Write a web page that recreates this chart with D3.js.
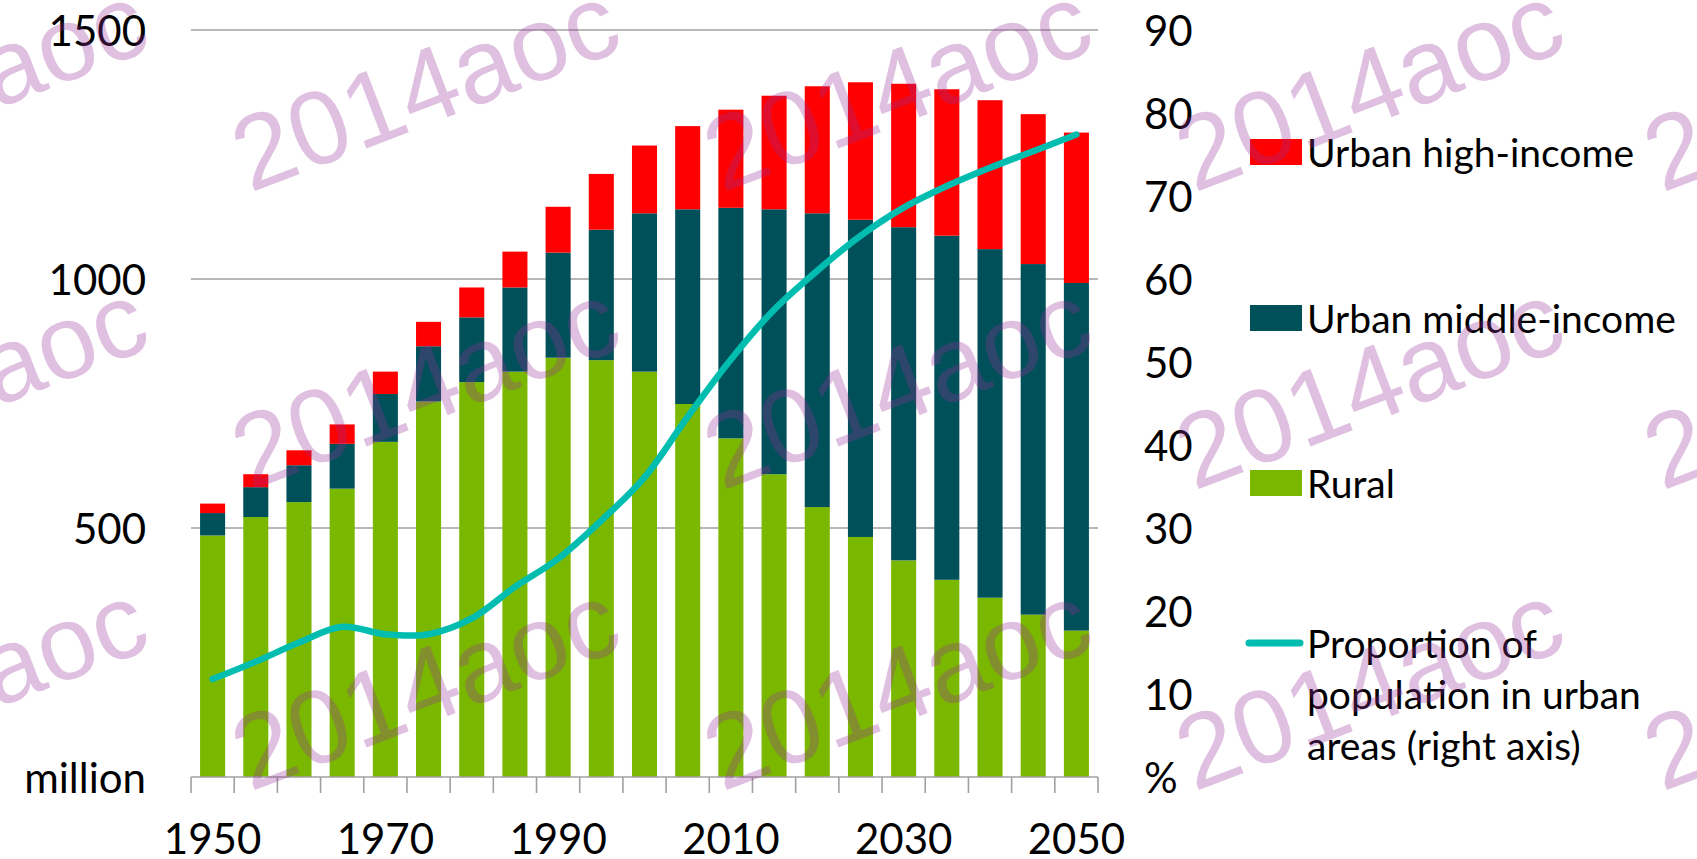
<!DOCTYPE html>
<html>
<head>
<meta charset="utf-8">
<script src="https://cdn.jsdelivr.net/npm/d3@7"></script>
<style>
  html, body { margin: 0; padding: 0; background: #fff; }
  svg { display: block; }
</style>
</head>
<body>
<div id="chart"></div>
<script>
// population by group, million
const years = [1950, 1955, 1960, 1965, 1970, 1975, 1980, 1985, 1990, 1995, 2000,
               2005, 2010, 2015, 2020, 2025, 2030, 2035, 2040, 2045, 2050];
const rural = [485, 522, 552, 579, 673, 754, 793, 814, 842, 837, 814,
               749, 680, 608, 542, 482, 435, 396, 360, 326, 294];
const urbanMiddle = [45, 60, 74, 90, 96, 111, 130, 169, 211, 262, 318,
                     391, 463, 532, 590, 637, 669, 691, 700, 704, 698];
const urbanHigh = [19, 26, 30, 39, 45, 49, 60, 72, 92, 112, 136,
                   167, 197, 228, 255, 276, 288, 294, 299, 301, 302];
// share of population in urban areas, %
const urbanShare = [11.8, 13.9, 16.2, 18.1, 17.2, 17.2, 19.1, 22.9, 26.3, 30.9, 36.1,
                    43.4, 50.3, 56.3, 61.0, 65.2, 68.6, 71.2, 73.4, 75.4, 77.4];

const leftTicks = [0, 500, 1000, 1500];
const rightTicks = [0, 10, 20, 30, 40, 50, 60, 70, 80, 90];
const yearLabels = [1950, 1970, 1990, 2010, 2030, 2050];

const seriesNames = ['Urban high-income', 'Urban middle-income', 'Rural'];
const lineName = ['Proportion of', 'population in urban', 'areas (right axis)'];

let width = 1697,
    height = 859;

let colors = { rural: '#7ab800', middle: '#00505a', high: '#ff0000', line: '#00bdb0' };
let font = 'Lato, "Open Sans", sans-serif';

let x = d3.scaleBand()
  .domain(years)
  .range([191, 1098])
  .paddingInner(0.42)
  .paddingOuter(0.21);

let y = d3.scaleLinear().domain([0, 1500]).range([777, 30]);
let y2 = d3.scaleLinear().domain([0, 90]).range([777, 30]);

let svg = d3.select('#chart').append('svg')
  .attr('width', width)
  .attr('height', height);

// gridlines
svg.append('g')
  .selectAll('line')
  .data(leftTicks.filter(d => d > 0))
  .enter().append('line')
    .attr('x1', 191).attr('x2', 1098)
    .attr('y1', d => y(d)).attr('y2', d => y(d))
    .style('stroke', '#a0a0a0')
    .style('stroke-width', 1.6);

// stacked bars
let rows = years.map((yr, i) => ({ year: yr, rural: rural[i], middle: urbanMiddle[i], high: urbanHigh[i] }));
let stack = d3.stack().keys(['rural', 'middle', 'high'])(rows);

svg.append('g')
  .selectAll('g')
  .data(stack)
  .enter().append('g')
    .style('fill', d => colors[d.key])
  .selectAll('rect')
  .data(d => d)
  .enter().append('rect')
    .attr('x', d => x(d.data.year))
    .attr('width', x.bandwidth())
    .attr('y', d => y(d[1]))
    .attr('height', d => y(d[0]) - y(d[1]));

// x axis line and ticks between categories
let axisG = svg.append('g');
axisG.append('line')
  .attr('x1', 191).attr('x2', 1098)
  .attr('y1', y(0)).attr('y2', y(0))
  .style('stroke', '#a0a0a0')
  .style('stroke-width', 1.6);

axisG.selectAll('.tick')
  .data(years.concat(['end']))
  .enter().append('line')
    .attr('class', 'tick')
    .attr('x1', (d, i) => 191 + i * x.step())
    .attr('x2', (d, i) => 191 + i * x.step())
    .attr('y1', y(0))
    .attr('y2', y(0) + 16)
    .style('stroke', '#a0a0a0')
    .style('stroke-width', 1.6);

axisG.selectAll('.xlabel')
  .data(yearLabels)
  .enter().append('text')
    .attr('class', 'xlabel')
    .attr('x', d => x(d) + x.bandwidth() / 2)
    .attr('y', 854)
    .attr('text-anchor', 'middle')
    .style('font-family', font)
    .style('font-size', '42px')
    .text(d => d);

// left axis labels
svg.append('g')
  .selectAll('text')
  .data(leftTicks)
  .enter().append('text')
    .attr('x', 146)
    .attr('y', d => y(d))
    .attr('text-anchor', 'end')
    .attr('dominant-baseline', 'central')
    .style('font-family', font)
    .style('font-size', '42px')
    .text(d => d === 0 ? 'million' : d);

// right axis labels
svg.append('g')
  .selectAll('text')
  .data(rightTicks)
  .enter().append('text')
    .attr('x', 1144)
    .attr('y', d => y2(d))
    .attr('dominant-baseline', 'central')
    .style('font-family', font)
    .style('font-size', '42px')
    .text(d => d === 0 ? '%' : d);

// urban share line
let line = d3.line()
  .x((d, i) => x(years[i]) + x.bandwidth() / 2)
  .y(d => y2(d))
  .curve(d3.curveCatmullRom);

svg.append('path')
  .datum(urbanShare)
  .attr('d', line)
  .style('fill', 'none')
  .style('stroke', colors.line)
  .style('stroke-width', 6.5)
  .style('stroke-linecap', 'round')
  .style('stroke-linejoin', 'round');

// legend
let legend = svg.append('g');
let legendKeys = ['high', 'middle', 'rural'];
let legendY = [152, 318, 483];

legendKeys.forEach((k, i) => {
  legend.append('rect')
    .attr('x', 1250).attr('y', legendY[i] - 13)
    .attr('width', 52).attr('height', 26)
    .style('fill', colors[k]);
  legend.append('text')
    .attr('x', 1307).attr('y', legendY[i])
    .attr('dominant-baseline', 'central')
    .style('font-family', font)
    .style('font-size', '39px')
    .text(seriesNames[i]);
});

legend.append('line')
  .attr('x1', 1249).attr('x2', 1300)
  .attr('y1', 643).attr('y2', 643)
  .style('stroke', colors.line)
  .style('stroke-width', 7)
  .style('stroke-linecap', 'round');

legend.selectAll('.ltext')
  .data(lineName)
  .enter().append('text')
    .attr('class', 'ltext')
    .attr('x', 1307)
    .attr('y', (d, i) => 643 + i * 51)
    .attr('dominant-baseline', 'central')
    .style('font-family', font)
    .style('font-size', '39px')
    .text(d => d);

// watermark overlay
let wmCols = [-222, 250, 722, 1194, 1662];
let wmRows = [193, 491, 792];
let wm = svg.append('g').style('pointer-events', 'none');
wmRows.forEach(ry => {
  wmCols.forEach(cx => {
    wm.append('text')
      .attr('transform', `translate(${cx},${ry}) rotate(-21)`)
      .style('font-family', '"Liberation Sans", Arial, sans-serif')
      .style('font-size', '105px')
      .style('fill', '#982d98')
      .style('fill-opacity', 0.3)
      .text('2014aoc');
  });
});
</script>
</body>
</html>
